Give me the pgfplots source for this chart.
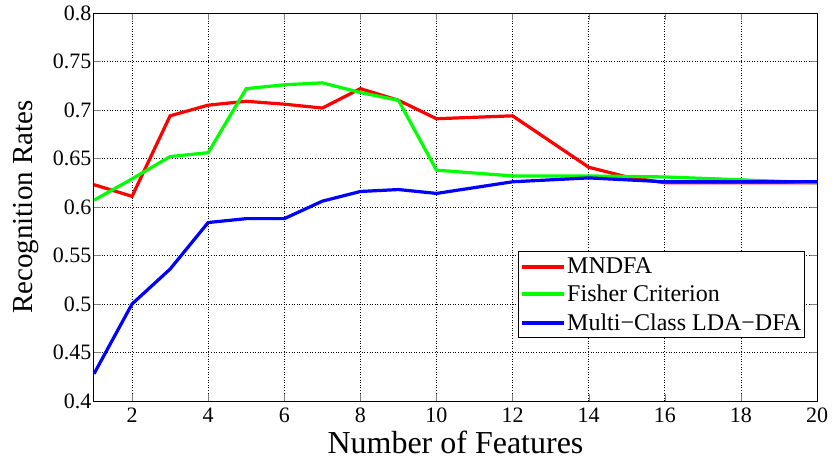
\documentclass[border=0pt]{standalone}
\usepackage{pgfplots}
\pgfplotsset{compat=1.18}
\usepackage{fontspec}
\setmainfont{Liberation Serif}
\begin{document}
\begin{tikzpicture}
\begin{axis}[
  at={(0,0)}, anchor=south west,
  width=723pt, height=388pt, scale only axis,
  xmin=1, xmax=20, ymin=0.4, ymax=0.8,
  xtick={2,4,...,20},
  ytick={0.4,0.45,...,0.81},
  yticklabel style={/pgf/number format/fixed,/pgf/number format/precision=2, xshift=1pt},
  xticklabel style={yshift=-3pt},
  /pgf/number format/assume math mode=true,
  tick label style={font=\fontsize{22}{26}\selectfont},
  tick align=inside,
  major tick length=7pt,
  xtick pos=both, ytick pos=both,
  grid=major,
  major grid style={black, line width=0.6pt, dotted},
  axis line style={black, line width=1pt},
  xlabel={Number of Features},
  ylabel={Recognition Rates},
  xlabel style={font=\fontsize{32}{34}\selectfont, at={(0.5,0)}, anchor=north, yshift=-26pt},
  ylabel style={font=\fontsize{29}{32}\selectfont, at={(0,0.5)}, anchor=south, yshift=52pt},
  legend style={at={(0.983,0.162)}, anchor=south east, draw=black, line width=1pt,
    font=\fontsize{24}{28}\selectfont, inner xsep=2pt, inner ysep=5pt, row sep=8pt,
    nodes={inner sep=1pt},
    cells={anchor=west}},
  legend image code/.code={\draw[#1, line width=4pt] (0pt,0pt) -- (42pt,0pt);},
  every axis plot/.append style={line width=3.2pt},
]
\addplot[color={rgb,1:red,1;green,0;blue,0}] coordinates {
(1,0.623) (2,0.611) (3,0.694) (4,0.705) (5,0.709) (6,0.706) (7,0.702) (8,0.722) (9,0.710) (10,0.691) (12,0.694) (14,0.641) (15,0.631) (16,0.625) (18,0.625) (20,0.625)};
\addlegendentry{MNDFA}
\addplot[color={rgb,1:red,0;green,1;blue,0}] coordinates {
(1,0.607) (2,0.629) (3,0.652) (4,0.656) (5,0.722) (6,0.726) (7,0.728) (8,0.718) (9,0.710) (10,0.638) (12,0.632) (14,0.632) (16,0.631) (18,0.628) (20,0.625)};
\addlegendentry{Fisher Criterion}
\addplot[color={rgb,1:red,0;green,0;blue,1}] coordinates {
(1,0.428) (2,0.500) (3,0.536) (4,0.584) (5,0.588) (6,0.588) (7,0.606) (8,0.616) (9,0.618) (10,0.614) (12,0.626) (14,0.630) (16,0.626) (18,0.626) (20,0.626)};
\addlegendentry{Multi−Class LDA−DFA}
\end{axis}
\path[use as bounding box] (-94pt,-60pt) rectangle (738pt,401pt);
\end{tikzpicture}
\end{document}
